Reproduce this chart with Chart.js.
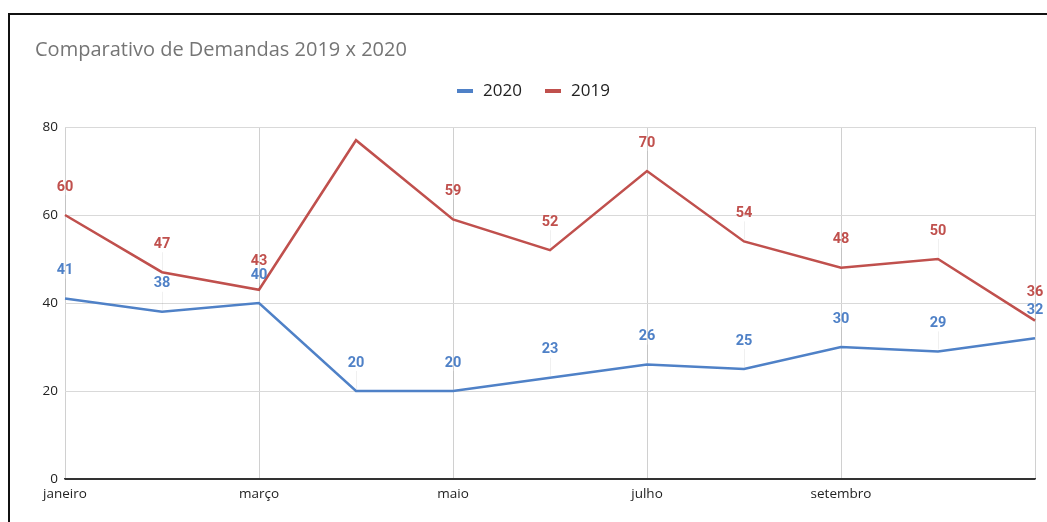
<!DOCTYPE html>
<html>
<head>
<meta charset="utf-8">
<script src="https://cdn.jsdelivr.net/npm/chart.js@4"></script>
<style>
  html, body { margin: 0; padding: 0; background: #fff; }
  #wrap { position: relative; width: 1047px; height: 522px; overflow: hidden; }
  #frame { position: absolute; left: 8px; top: 13px; width: 1100px; height: 600px;
           border-left: 2px solid #111; border-top: 2px solid #111; }
  canvas { position: absolute; left: 0; top: 0; }
</style>
</head>
<body>
<div id="wrap">
  <div id="frame"></div>
  <canvas id="chart"></canvas>
</div>
<script>
const months = ['janeiro', 'fevereiro', 'março', 'abril', 'maio', 'junho', 'julho', 'agosto', 'setembro', 'outubro', 'novembro'];
const demandas2020 = [41, 38, 40, 20, 20, 23, 26, 25, 30, 29, 32];
const demandas2019 = [60, 47, 43, 77, 59, 52, 70, 54, 48, 50, 36];
const yTicks = [0, 20, 40, 60, 80];

const blue = '#4f81c7';
const red = '#c0504d';

const canvas = document.getElementById('chart');
canvas.width = 1047;
canvas.height = 522;
canvas.style.width = '1047px';
canvas.style.height = '522px';

// titulo + legenda desenhados a mao, estilo planilhas
const headerPlugin = {
  id: 'header',
  afterDraw(chart) {
    const ctx = chart.ctx;
    ctx.save();
    ctx.textBaseline = 'middle';
    ctx.textAlign = 'left';
    ctx.font = '20px "Open Sans"';
    ctx.fillStyle = '#757575';
    ctx.fillText('Comparativo de Demandas 2019 x 2020', 35, 50);

    ctx.font = '17px "Open Sans"';
    const items = [['2020', blue, 457], ['2019', red, 545]];
    items.forEach(([txt, col, x]) => {
      ctx.fillStyle = col;
      ctx.fillRect(x, 89, 16, 4);
      ctx.fillStyle = '#222';
      ctx.fillText(txt, x + 26, 91);
    });
    ctx.restore();
  }
};

// rotulos de dados com linha guia fraca
const labelPlugin = {
  id: 'pointLabels',
  afterDatasetsDraw(chart) {
    const ctx = chart.ctx;
    ctx.save();
    ctx.font = 'bold 14.5px Roboto';
    ctx.textAlign = 'center';
    ctx.textBaseline = 'middle';
    chart.data.datasets.forEach((ds, di) => {
      const meta = chart.getDatasetMeta(di);
      meta.data.forEach((pt, i) => {
        if (ds.hideLabel && ds.hideLabel.includes(i)) return;
        const ly = pt.y - 28;
        ctx.strokeStyle = 'rgba(0,0,0,0.06)';
        ctx.lineWidth = 1;
        ctx.beginPath();
        ctx.moveTo(pt.x + 0.5, ly + 8);
        ctx.lineTo(pt.x + 0.5, pt.y - 2);
        ctx.stroke();
        ctx.fillStyle = ds.borderColor;
        ctx.fillText(String(ds.data[i]), pt.x, ly);
      });
    });
    ctx.restore();
  }
};

new Chart(canvas.getContext('2d'), {
  type: 'line',
  data: {
    labels: months,
    datasets: [
      { label: '2020', data: demandas2020, borderColor: blue, backgroundColor: blue,
        borderWidth: 2.5, pointRadius: 0, tension: 0 },
      { label: '2019', data: demandas2019, borderColor: red, backgroundColor: red,
        borderWidth: 2.5, pointRadius: 0, tension: 0, hideLabel: [3] }
    ]
  },
  options: {
    responsive: false,
    animation: false,
    maintainAspectRatio: false,
    layout: { padding: { top: 127, right: 12, bottom: 0, left: 0 } },
    plugins: {
      legend: { display: false },
      title: { display: false },
      tooltip: { enabled: false }
    },
    scales: {
      x: {
        offset: false,
        grid: {
          drawTicks: false,
          color: ctx => (ctx.index % 2 === 0 ? '#d0d0d0' : 'rgba(0,0,0,0)'),
          lineWidth: 1
        },
        border: { display: true, color: '#333', width: 1.5 },
        ticks: {
          autoSkip: false,
          maxRotation: 0,
          padding: 7,
          color: '#222',
          font: { family: '"Open Sans"', size: 13.5 },
          callback: function (v, i) {
            return (i % 2 === 0 && i < months.length - 1) ? this.getLabelForValue(v) : '';
          }
        },
        afterFit: s => { s.height = 43; }
      },
      y: {
        min: 0,
        max: 80,
        afterBuildTicks: s => { s.ticks = yTicks.map(v => ({ value: v })); },
        grid: {
          drawTicks: false,
          color: ctx => (ctx.tick && ctx.tick.value === 0 ? '#333' : '#d9d9d9')
        },
        border: { display: false },
        ticks: {
          padding: 7,
          color: '#222',
          font: { family: '"Open Sans"', size: 13.5 }
        },
        afterFit: s => { s.width = 65; }
      }
    }
  },
  plugins: [headerPlugin, labelPlugin]
});
</script>
</body>
</html>
